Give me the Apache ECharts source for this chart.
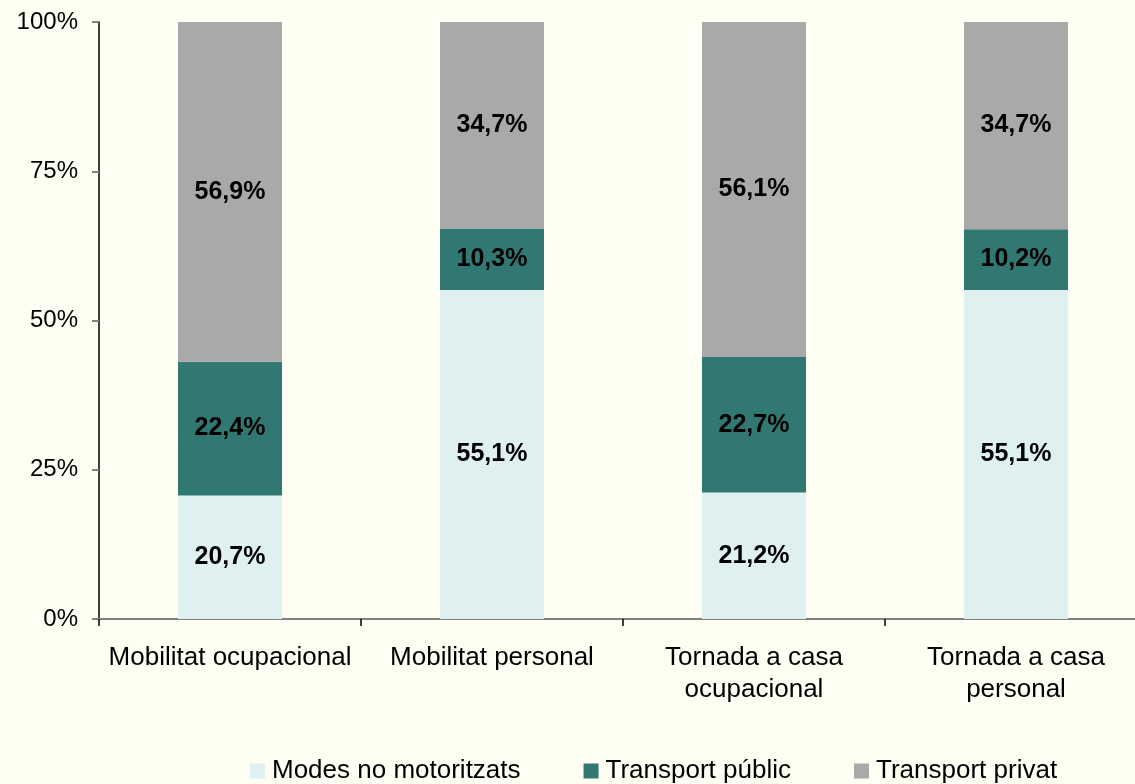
<!DOCTYPE html>
<html>
<head>
<meta charset="utf-8">
<script src="https://cdn.jsdelivr.net/npm/echarts@6/dist/echarts.min.js"></script>
<style>
html,body{margin:0;padding:0;background:#FEFEF2;}
#chart{width:1135px;height:784px;}
</style>
</head>
<body>
<div id="chart"></div>
<script>
const categories = ['Mobilitat ocupacional', 'Mobilitat personal', 'Tornada a casa\nocupacional', 'Tornada a casa\npersonal'];
const seriesNames = ['Modes no motoritzats', 'Transport públic', 'Transport privat'];
const modesNoMotoritzats = [20.7, 55.1, 21.2, 55.1];
const transportPublic = [22.4, 10.3, 22.7, 10.2];
const transportPrivat = [56.9, 34.7, 56.1, 34.7];
const yTicks = [0, 25, 50, 75, 100];

const colors = ['#DFF0F0', '#317873', '#A9A9A9'];
const FONT = '"Liberation Sans", Arial, sans-serif';

const chart = echarts.init(document.getElementById('chart'), null, {renderer: 'canvas'});

function mkSeries(name, data, color) {
  return {
    name: name,
    type: 'bar',
    stack: 'total',
    barWidth: 104,
    data: data,
    itemStyle: {color: color},
    label: {
      show: true,
      position: 'inside',
      formatter: p => p.value.toFixed(1).replace('.', ',') + '%',
      color: '#000',
      fontFamily: FONT,
      fontWeight: 'bold',
      fontSize: 25
    },
    emphasis: {disabled: true}
  };
}

chart.setOption({
  backgroundColor: '#FEFEF2',
  animation: false,
  textStyle: {fontFamily: FONT},
  grid: {left: 99, top: 22, bottom: 165, width: 1048, containLabel: false, outerBoundsMode: 'none'},
  legend: {
    left: 245,
    top: 753,
    itemWidth: 15,
    itemHeight: 15,
    itemGap: 63,
    icon: 'rect',
    textStyle: {fontFamily: FONT, fontSize: 26, color: '#000', padding: [0, 0, 0, 2]},
    data: seriesNames
  },
  xAxis: {
    type: 'category',
    data: categories,
    axisLine: {show: true, lineStyle: {color: '#808080', width: 2}},
    axisTick: {show: true, alignWithLabel: false, length: 7, lineStyle: {color: '#000', width: 1.5}},
    axisLabel: {fontFamily: FONT, fontSize: 26, color: '#000', margin: 23, lineHeight: 32, interval: 0}
  },
  yAxis: {
    type: 'value',
    min: 0,
    max: 100,
    interval: 25,
    splitLine: {show: false},
    axisLine: {show: true, lineStyle: {color: '#000', width: 1.5}},
    axisTick: {show: true, length: 7, lineStyle: {color: '#808080', width: 2}},
    axisLabel: {
      fontFamily: FONT, fontSize: 24, color: '#000', margin: 21,
      formatter: v => (yTicks.indexOf(v) >= 0 ? v + '%' : '')
    }
  },
  series: [
    mkSeries(seriesNames[0], modesNoMotoritzats, colors[0]),
    mkSeries(seriesNames[1], transportPublic, colors[1]),
    mkSeries(seriesNames[2], transportPrivat, colors[2])
  ]
});
</script>
</body>
</html>
